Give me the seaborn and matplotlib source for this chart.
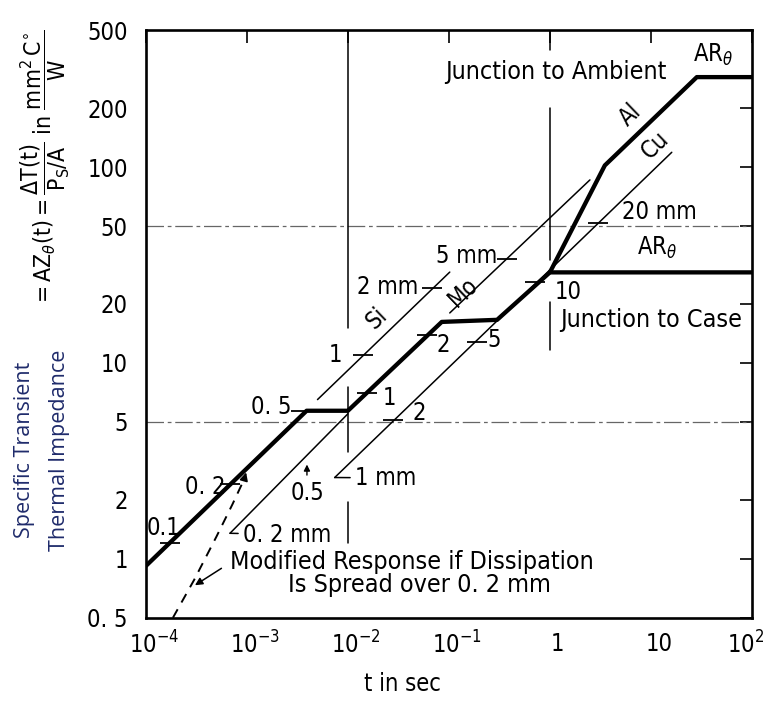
import numpy as np
import pandas as pd
import matplotlib
matplotlib.use("Agg")
import matplotlib.pyplot as plt
import matplotlib.transforms as mtrans
import seaborn as sns

# ---- curve data: time t [s] and specific thermal impedance Z [mm^2 C/W] ----
case_t = [1e-4, 3.9e-3, 1e-2, 0.085, 0.30, 1.0, 100]
case_z = [0.92, 5.7, 5.7, 16.2, 16.6, 29, 29]
amb_t = [1.0, 3.5, 28.5, 100]
amb_z = [29, 102, 288, 288]
si_t = [5.0e-3, 0.102]
si_z = [6.5, 29.1]
mo_t = [0.102, 2.49]
mo_z = [18, 86]
thin02_t = [6.8e-4, 1e-2]
thin02_z = [1.35, 5.5]
cu_t = [7.4e-3, 16.1]
cu_z = [2.6, 119]
spread_t = [1.85e-4, 3.0e-4, 5.0e-4, 7.2e-4, 9.4e-4]
spread_z = [0.5, 0.78, 1.3, 1.9, 2.55]

# thickness tick marks along the curves (t, Z)
mark_t = [1.73e-4, 6.8e-4, 3.43e-3, 0.0154, 0.0605, 0.71,
          0.0141, 0.068, 0.375, 0.0279, 0.189, 2.99]
mark_z = [1.21, 2.4, 5.7, 7.0, 13.9, 25.9,
          11.0, 24.2, 34.0, 5.1, 12.8, 52.0]

x_ticks = [1e-4, 1e-3, 1e-2, 1e-1, 1, 10, 100]
x_labels = [r"$10^{-4}$", r"$10^{-3}$", r"$10^{-2}$", r"$10^{-1}$", "1", "10", r"$10^{2}$"]
y_ticks = [0.5, 1, 2, 5, 10, 20, 50, 100, 200, 500]
y_labels = ["0. 5", "1", "2", "5", "10", "20", "50", "100", "200", "500"]

sns.set_theme(style="white")
plt.rcParams["font.family"] = ["DejaVu Sans"]
plt.rcParams["font.stretch"] = "condensed"
plt.rcParams["mathtext.fontset"] = "custom"
plt.rcParams["mathtext.rm"] = "DejaVu Sans:stretch=condensed"
plt.rcParams["mathtext.it"] = "DejaVu Sans:italic:stretch=condensed"
plt.rcParams["mathtext.bf"] = "DejaVu Sans:bold:stretch=condensed"
plt.rcParams["mathtext.sf"] = "DejaVu Sans:stretch=condensed"
for key in ("text.color", "axes.labelcolor", "xtick.color", "ytick.color"):
    plt.rcParams[key] = "black"

FS = 17
FS_WORDS = 18
fig = plt.figure(figsize=(7.68, 7.02), dpi=100)
ax = fig.add_axes([0.190, 0.120, 0.789, 0.837])
ax.set_xscale("log")
ax.set_yscale("log")
ax.set_xlim(1e-4, 100)
ax.set_ylim(0.5, 500)

# reference grid: dash-dot horizontals, broken verticals
for yv in (5, 50):
    ax.axhline(yv, color="0.4", lw=0.9, ls=(0, (14, 3, 3, 3)), zorder=1)
vgrid = [(1e-2, 15.1, 500), (1e-2, 3.52, 7.55), (1e-2, 1.21, 1.95),
         (1.0, 395, 500), (1.0, 33.5, 200), (1.0, 11.6, 20.5)]
for xv, y0, y1 in vgrid:
    ax.plot([xv, xv], [y0, y1], color="black", lw=1.1, zorder=1)

def curve(t, z, lw, ls="-"):
    sns.lineplot(x=t, y=z, ax=ax, color="black", lw=lw, ls=ls,
                 sort=False, estimator=None, zorder=3)

curve(case_t, case_z, 3.1)
curve(amb_t, amb_z, 3.1)
for t, z in [(si_t, si_z), (mo_t, mo_z), (thin02_t, thin02_z), (cu_t, cu_z)]:
    curve(t, z, 1.1)
curve(spread_t, spread_z, 1.4, ls=(0, (5, 4)))
ax.annotate("", xy=(1e-3, 2.85), xytext=(spread_t[-1], spread_z[-1]),
            arrowprops=dict(arrowstyle="-|>", color="black", lw=1.2, mutation_scale=12))

ax.plot(mark_t, mark_z, ls="none", marker="_", ms=15, mew=1.3, color="black", zorder=4)

# line labels
txt = dict(fontsize=FS, color="black", va="center")
words = dict(fontsize=FS_WORDS, color="black", va="center")
ax.text(0.091, 305, "Junction to Ambient", ha="left", **words)
ax.text(26, 373, r"$\mathrm{AR}_{\theta}$", ha="left", **txt)
ax.text(6.2, 184, "Al", ha="center", rotation=44, **txt)
ax.text(11.0, 129, "Cu", ha="center", rotation=44, **txt)
ax.text(5.2, 59, "20 mm", ha="left", **txt)
ax.text(7.3, 38.6, r"$\mathrm{AR}_{\theta}$", ha="left", **txt)
ax.text(1.12, 23, "10", ha="left", **txt)
ax.text(1.26, 16.6, "Junction to Case", ha="left", **words)
ax.text(0.30, 35.2, "5 mm", ha="right", **txt)
ax.text(0.138, 23, "Mo", ha="center", rotation=44, **txt)
ax.text(0.0493, 24.4, "2 mm", ha="right", **txt)
ax.text(0.0194, 17.0, "Si", ha="center", rotation=44, **txt)
ax.text(8.7e-3, 11.0, "1", ha="right", **txt)
ax.text(0.076, 12.4, "2", ha="left", **txt)
ax.text(0.238, 13.1, "5", ha="left", **txt)
ax.text(0.0222, 6.6, "1", ha="left", **txt)
ax.text(0.044, 5.56, "2", ha="left", **txt)
ax.text(2.79e-3, 5.97, "0. 5", ha="right", **txt)
ax.text(6.19e-4, 2.33, "0. 2", ha="right", **txt)
ax.text(1.02e-4, 1.44, "0.1", ha="left", **txt)
ax.text(4.0e-3, 2.17, "0.5", ha="center", **txt)
ax.annotate("", xy=(3.93e-3, 3.13), xytext=(3.93e-3, 2.59),
            arrowprops=dict(arrowstyle="-|>", color="black", lw=1.0, mutation_scale=9))
ax.annotate("1 mm", xy=(cu_t[0], cu_z[0]), xytext=(0.0117, 2.59), ha="left", va="center",
            fontsize=FS, color="black",
            arrowprops=dict(arrowstyle="-", color="black", lw=1.1, shrinkA=1, shrinkB=0))
ax.annotate("0. 2 mm", xy=(thin02_t[0], thin02_z[0]), xytext=(9.1e-4, 1.33), ha="left",
            va="center", fontsize=FS, color="black",
            arrowprops=dict(arrowstyle="-", color="black", lw=1.1, shrinkA=1, shrinkB=0))
ax.text(6.8e-4, 0.966, "Modified Response if Dissipation", ha="left", **words)
ax.text(2.55e-3, 0.736, "Is Spread over 0. 2 mm", ha="left", **words)
ax.annotate("", xy=(2.9e-4, 0.72), xytext=(5.9e-4, 0.91),
            arrowprops=dict(arrowstyle="-|>", color="black", lw=1.1, mutation_scale=11))

# axes frame and ticks
ax.xaxis.set_minor_locator(matplotlib.ticker.NullLocator())
ax.yaxis.set_minor_locator(matplotlib.ticker.NullLocator())
ax.set_xticks(x_ticks)
ax.set_xticklabels(x_labels)
ax.set_yticks(y_ticks)
ax.set_yticklabels(y_labels)
ax.tick_params(axis="both", which="major", direction="in", length=9, width=1.2,
               top=True, right=True, labelsize=FS, colors="black")
ax.tick_params(axis="y", pad=13)
ax.tick_params(axis="x", pad=10)
for i, lab in enumerate(ax.get_xticklabels()):
    dx = 8 if i < len(x_labels) - 1 else -6
    lab.set_transform(lab.get_transform() +
                      mtrans.ScaledTranslation(dx / 100, 0, fig.dpi_scale_trans))
for s in ax.spines.values():
    s.set_visible(True)
    s.set_color("black")
    s.set_linewidth(1.9)
ax.set_xlabel("t in sec", fontsize=FS)
ax.xaxis.set_label_coords(0.424, -0.093)
ax.set_ylabel("")

fig.text(45 / 768, 1 - 168 / 702,
         r"$=\mathrm{AZ}_{\theta}\mathrm{(t)}=\dfrac{\Delta\mathrm{T(t)}}{\mathrm{P_S/A}}$ in "
         r"$\dfrac{\mathrm{mm}^{2}\,\mathrm{C}^{\circ}}{\mathrm{W}}$",
         rotation=90, ha="center", va="center", fontsize=16.5)
fig.text(25 / 768, 1 - 450 / 702, "Specific Transient", rotation=90, ha="center",
         va="center", fontsize=15.5, color="#1f2b6b", family=["Open Sans", "DejaVu Sans"],
         stretch="normal")
fig.text(60 / 768, 1 - 450 / 702, "Thermal Impedance", rotation=90, ha="center",
         va="center", fontsize=15.5, color="#1f2b6b", family=["Open Sans", "DejaVu Sans"],
         stretch="normal")

fig.savefig("out.png", dpi=100, facecolor="white")
